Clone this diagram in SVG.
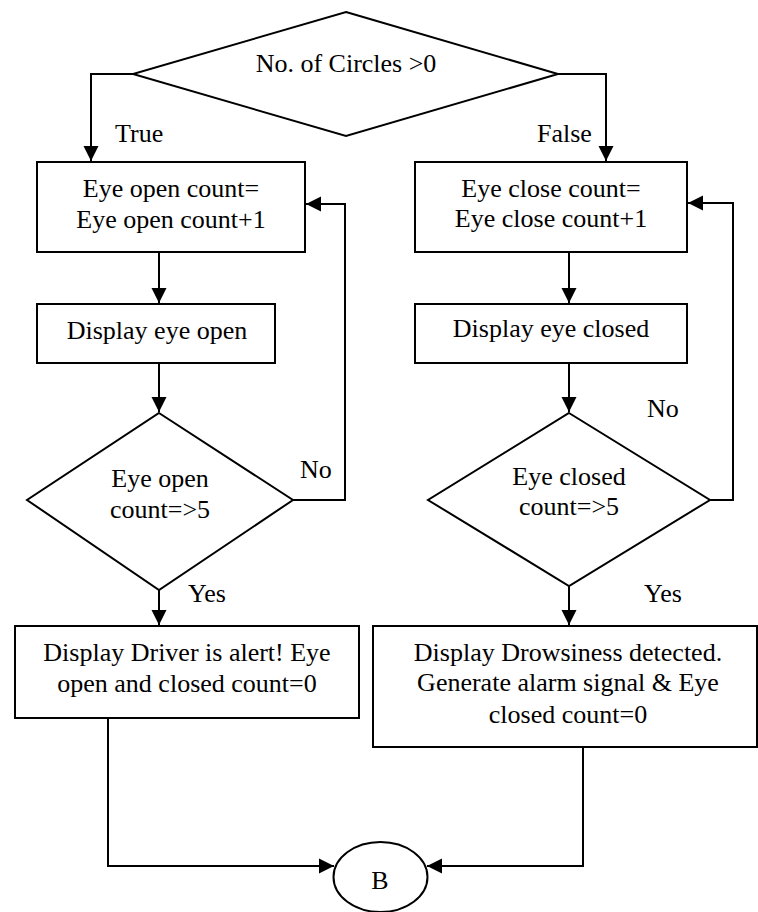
<svg xmlns="http://www.w3.org/2000/svg" width="758" height="912" viewBox="0 0 758 912" font-family="Liberation Serif, Times New Roman, DejaVu Serif, serif" font-size="26">
<style>
.s{fill:#fff;stroke:#000;stroke-width:2}
.c{fill:none;stroke:#000;stroke-width:2}
text{font-family:'Liberation Serif','Times New Roman','DejaVu Serif',serif;font-size:26px;fill:#000}
.m{text-anchor:middle}
</style>
<defs>
<marker id="a" markerUnits="userSpaceOnUse" markerWidth="16" markerHeight="16" viewBox="0 0 16 16" refX="15" refY="8" orient="auto">
<path d="M0,0.5 L15,8 L0,15.5 Z" fill="#000"/>
</marker>
</defs>
<rect width="758" height="912" fill="#fff"/>
<g id="connectors">
<polyline class="c" points="133,74 91,74 91,161" marker-end="url(#a)"/>
<polyline class="c" points="558,74 606,74 606,161" marker-end="url(#a)"/>
<line class="c" x1="159" y1="252" x2="159" y2="303" marker-end="url(#a)"/>
<line class="c" x1="569" y1="252" x2="569" y2="303" marker-end="url(#a)"/>
<line class="c" x1="159" y1="363" x2="159" y2="412" marker-end="url(#a)"/>
<line class="c" x1="569" y1="363" x2="569" y2="412" marker-end="url(#a)"/>
<polyline class="c" points="293,500 345,500 345,204 306,204" marker-end="url(#a)"/>
<polyline class="c" points="710,500 733,500 733,203 688,203" marker-end="url(#a)"/>
<line class="c" x1="159" y1="590" x2="159" y2="625" marker-end="url(#a)"/>
<line class="c" x1="569" y1="586" x2="569" y2="625" marker-end="url(#a)"/>
<polyline class="c" points="108,718 108,866 334,866" marker-end="url(#a)"/>
<polyline class="c" points="583,747 583,866 427,866" marker-end="url(#a)"/>
<text x="115" y="142">True</text>
<text x="537" y="142">False</text>
<text x="300" y="478">No</text>
<text x="647" y="417">No</text>
<text x="188" y="602">Yes</text>
<text x="644" y="602">Yes</text>
</g>
<g id="start">
<polygon class="s" points="346,12 558,74 346,136 133,74"/>
<text class="m" x="346" y="72">No. of Circles &gt;0</text>
</g>
<g id="openCount">
<rect class="s" x="37" y="162" width="268" height="90"/>
<text class="m" x="171" y="197">Eye open count=</text>
<text class="m" x="171" y="228">Eye open count+1</text>
</g>
<g id="closeCount">
<rect class="s" x="415" y="162" width="272" height="90"/>
<text class="m" x="551" y="197">Eye close count=</text>
<text class="m" x="551" y="227">Eye close count+1</text>
</g>
<g id="dispOpen">
<rect class="s" x="37" y="304" width="238" height="59"/>
<text class="m" x="157" y="339">Display eye open</text>
</g>
<g id="dispClosed">
<rect class="s" x="415" y="304" width="272" height="59"/>
<text class="m" x="551" y="337">Display eye closed</text>
</g>
<g id="openCheck">
<polygon class="s" points="159,413 293,500 159,590 27,500"/>
<text class="m" x="160" y="487">Eye open</text>
<text class="m" x="160" y="518">count=&gt;5</text>
</g>
<g id="closedCheck">
<polygon class="s" points="569,413 710,500 569,586 428,500"/>
<text class="m" x="569" y="485">Eye closed</text>
<text class="m" x="569" y="515">count=&gt;5</text>
</g>
<g id="alert">
<rect class="s" x="15" y="626" width="344" height="92"/>
<text class="m" x="187" y="661">Display Driver is alert! Eye</text>
<text class="m" x="187" y="692">open and closed count=0</text>
</g>
<g id="drowsy">
<rect class="s" x="373" y="626" width="384" height="121"/>
<text class="m" x="568" y="661">Display Drowsiness detected.</text>
<text class="m" x="568" y="691">Generate alarm signal &amp; Eye</text>
<text class="m" x="568" y="723">closed count=0</text>
</g>
<g id="B">
<ellipse class="s" cx="380.5" cy="877" rx="47" ry="35"/>
<text class="m" x="380" y="889">B</text>
</g>
</svg>
